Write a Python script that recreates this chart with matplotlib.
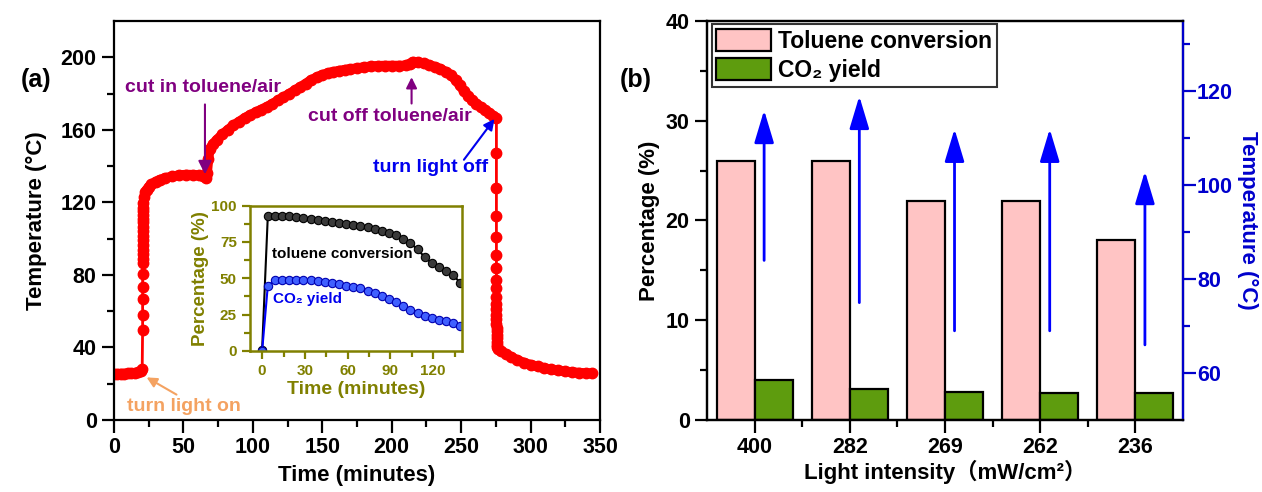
import matplotlib
matplotlib.use('Agg')
import matplotlib.pyplot as plt
import numpy as np
from matplotlib.ticker import MultipleLocator, FixedLocator

plt.rcParams['font.family'] = ['Liberation Sans', 'DejaVu Sans', 'Noto Sans CJK SC']
plt.rcParams['font.weight'] = 'bold'
plt.rcParams['axes.linewidth'] = 1.6

# ---- (a) temperature profile ----
time_min = [0, 2.5, 5, 7.5, 10, 12.5, 15, 17.5, 19.5, 20.3,
            20.6, 20.6, 20.6, 20.6, 20.6, 20.6, 20.6, 20.6, 20.6, 20.6, 20.6,
            20.6, 20.6, 20.6, 20.7, 20.7, 20.8, 20.9, 21.0, 21.2,
            21.5, 22.5, 23.5, 25, 27, 30, 33, 37, 42, 47, 52, 57, 61, 64, 66,
            67, 68, 69, 71, 74, 78, 82, 86, 90, 94, 98, 102, 106, 110, 114,
            118, 122, 126, 130, 134, 138, 142, 146, 150, 154, 158, 162, 166,
            170, 175, 180, 185, 190, 195, 200, 205, 210, 213, 215, 219, 223,
            227, 231, 235, 239, 243, 246, 249, 252, 255, 258, 261, 264, 267,
            270, 273, 275.4,
            275.4, 275.4, 275.4, 275.4, 275.4, 275.4, 275.4, 275.4, 275.4,
            275.4, 275.4, 275.4, 275.4, 275.4, 275.5, 275.5, 275.5, 275.5,
            275.6, 275.6, 275.7,
            276.5, 279, 282, 286, 290, 295, 300, 305, 310, 315, 320, 325,
            330, 335, 340, 344]
temp_c = [25.5, 25.5, 25.6, 25.6, 25.7, 25.8, 25.9, 26.2, 27.0, 28.0,
          49.6, 57.9, 66.5, 73.5, 80.5, 86.4, 89, 91.5, 94, 96.5, 99,
          101.5, 104, 106.5, 109, 111, 113, 115, 117, 119.5,
          123, 125.5, 127, 128.5, 130, 131.5, 132.5, 133.5, 134.3, 135, 135.3,
          135.2, 135, 134.3, 133.5,
          136, 144, 149.5, 152, 154.5, 157.5, 160, 162.5, 164.5, 166.5, 168.2,
          169.7, 171.2, 172.7, 174.3, 176.2, 178, 179.8, 181.7, 183.5, 185.5,
          187.5, 189, 190.3, 191.3, 192, 192.6, 193.1, 193.5, 194, 194.6, 195,
          195.3, 195.4, 195.4, 195.4, 195.5, 196.5, 197.6, 197.2, 196.6, 195.8,
          194.8, 193.6, 192, 190, 187.5, 184.6, 181.5, 178.8, 176.5, 174.5,
          172.6, 171, 169.4, 167.8, 166.4,
          147, 127.7, 112.5, 100.7, 91.2, 83.6, 77.2, 72.6, 68, 64, 61, 58,
          55.5, 53, 51, 49, 47, 45, 43, 41.5, 40.4,
          39.2, 38, 36.5, 34.8, 33.2, 31.7, 30.5, 29.5, 28.6, 27.9, 27.3, 26.8,
          26.4, 26.1, 25.8, 25.7]

# ---- inset ----
inset_t = [0, 4, 9, 14, 19, 24, 29, 34, 39, 44, 49, 54, 59, 64, 69, 74, 79,
           84, 89, 94, 99, 104, 109, 114, 119, 124, 129, 134, 139]
toluene_conv = [1, 93, 93, 93, 93, 92, 91.5, 91, 90, 89.5, 89, 88, 87, 86.5,
                86, 85, 84, 82.5, 81, 79.5, 77, 74, 70, 64.5, 60.5, 57.5, 55,
                52, 47]
co2_yield = [0, 45, 48.5, 49, 49, 49, 48.5, 48.5, 48, 47.5, 47, 46, 45, 44,
             43, 41.5, 40, 38, 36, 33.5, 31, 28.5, 26, 24, 23, 21.5, 20.5, 19, 17]

# ---- (b) ----
intensity = ['400', '282', '269', '262', '236']
tol_pct = [26, 26, 22, 22, 18]
co2_pct = [4.0, 3.1, 2.8, 2.7, 2.7]
temp_start = [84, 75, 69, 69, 66]
temp_end = [116, 119, 112, 112, 103]

W, H = 1262, 492
fig = plt.figure(figsize=(W / 100, H / 100), dpi=100)

def rect(l, t, r, b):
    return [l / W, 1 - b / H, (r - l) / W, (b - t) / H]

# ================= panel (a) =================
ax = fig.add_axes(rect(114, 21, 600, 420))
t_arr = np.array(time_min)
T_arr = np.array(temp_c)
# thick band only where the curve is not a vertical jump
steep = np.zeros(len(t_arr), bool)
dt = np.diff(t_arr)
steep[1:] |= dt < 0.35
steep[:-1] |= dt < 0.35
band = np.where(steep, np.nan, T_arr)
ax.plot(t_arr, band, '-', color='red', lw=7, solid_capstyle='round')
ax.plot(t_arr, T_arr, '-', color='red', lw=2, marker='o', ms=7.5,
        mec='red', mfc='red')
ax.set_xlim(0, 350)
ax.set_ylim(0, 220)
ax.xaxis.set_major_locator(MultipleLocator(50))
ax.xaxis.set_minor_locator(MultipleLocator(25))
ax.yaxis.set_major_locator(FixedLocator([0, 40, 80, 120, 160, 200]))
ax.yaxis.set_minor_locator(FixedLocator([20, 60, 100, 140, 180]))
ax.tick_params(which='both', direction='out', top=False, right=False,
               width=1.6, labelsize=15.5)
ax.tick_params(which='major', length=9)
ax.tick_params(which='minor', length=5)
ax.set_xlabel('Time (minutes)', fontsize=16, fontweight='bold', labelpad=5)
ax.set_ylabel('Temperature (\u00b0C)', fontsize=16, fontweight='bold', labelpad=10)
fig.text(36 / W, 1 - 80 / H, '(a)', fontsize=18, fontweight='bold',
         ha='center', va='center')

ann = dict(fontsize=14, fontweight='bold', ha='center', va='center')
ax.text(50.5, 7.5, 'turn light on', color='#F4A261', **ann)
ax.annotate('', xy=(23.5, 23.5), xytext=(45, 14),
            arrowprops=dict(arrowstyle='-|>', color='#F4A261', lw=1.5,
                            mutation_scale=15, shrinkA=0, shrinkB=0))
ax.text(63.8, 183.4, 'cut in toluene/air', color='#800080', **ann)
ax.annotate('', xy=(65.5, 135.5), xytext=(65.5, 174),
            arrowprops=dict(arrowstyle='-|>', color='#800080', lw=1.5,
                            mutation_scale=20, shrinkA=0, shrinkB=0))
ax.text(198.7, 167.2, 'cut off toluene/air', color='#800080', **ann)
ax.annotate('', xy=(214.3, 189), xytext=(214.3, 174.5),
            arrowprops=dict(arrowstyle='-|>', color='#800080', lw=1.5,
                            mutation_scale=16, shrinkA=0, shrinkB=0))
ax.text(228, 139, 'turn light off', color='#0000EE', **ann)
ax.annotate('', xy=(274, 166), xytext=(252, 143.5),
            arrowprops=dict(arrowstyle='-|>', color='#0000EE', lw=1.5,
                            mutation_scale=16, shrinkA=0, shrinkB=0))

# ---- inset ----
olive = '#808000'
ins = fig.add_axes(rect(250, 205.5, 461.7, 351))
ins.plot(inset_t, toluene_conv, '-', color='black', lw=1.5, marker='o', ms=6,
         mfc='#3a3a3a', mec='black', mew=0.8)
ins.plot(inset_t, co2_yield, '-', color='blue', lw=1.5, marker='o', ms=6,
         mfc='#4060ff', mec='#0000b0', mew=0.8)
ins.set_xlim(-8.5, 140)
ins.set_ylim(0, 100)
ins.xaxis.set_major_locator(FixedLocator([0, 30, 60, 90, 120]))
ins.xaxis.set_minor_locator(FixedLocator([15, 45, 75, 105, 135]))
ins.yaxis.set_major_locator(MultipleLocator(25))
ins.yaxis.set_minor_locator(MultipleLocator(12.5))
for s in ins.spines.values():
    s.set_color(olive)
    s.set_linewidth(1.8)
ins.tick_params(which='both', direction='out', colors=olive, width=1.6,
                labelsize=11, top=False, right=False)
ins.tick_params(which='major', length=6)
ins.tick_params(which='minor', length=4)
for lab in ins.get_xticklabels() + ins.get_yticklabels():
    lab.set_fontweight('bold')
ins.set_xlabel('Time (minutes)', color=olive, fontsize=14, fontweight='bold',
               labelpad=2)
ins.set_ylabel('Percentage (%)', color=olive, fontsize=13.5, fontweight='bold',
               labelpad=2)
ins.text(56, 67, 'toluene conversion', fontsize=11, fontweight='bold',
         color='black', ha='center', va='center')
ins.text(32, 36, 'CO\u2082 yield', fontsize=11, fontweight='bold',
         color='#0000EE', ha='center', va='center')

# ================= panel (b) =================
bx = fig.add_axes(rect(707, 21, 1183, 420))
pos = np.arange(len(intensity))
bx.bar(pos - 0.4, tol_pct, width=0.4, align='edge', color='#FFC4C4',
       edgecolor='black', lw=1.6, label='Toluene conversion')
bx.bar(pos, co2_pct, width=0.4, align='edge', color='#5E9C0E',
       edgecolor='black', lw=1.6, label='CO\u2082 yield')
bx.set_xlim(-0.5, 4.5)
bx.set_ylim(0, 40)
bx.set_xticks(pos)
bx.set_xticklabels(intensity)
bx.xaxis.set_minor_locator(FixedLocator(pos[:-1] + 0.5))
bx.yaxis.set_major_locator(MultipleLocator(10))
bx.yaxis.set_minor_locator(MultipleLocator(5))
bx.tick_params(which='both', direction='out', top=False, right=False,
               width=1.6, labelsize=15.5)
bx.tick_params(which='major', length=9)
bx.tick_params(which='minor', length=5)
bx.set_ylabel('Percentage (%)', fontsize=16, fontweight='bold', labelpad=4)
bx.set_xlabel('Light intensity\uff08mW/cm\u00b2\uff09', fontsize=16,
              fontweight='bold', labelpad=1)
fig.text(636 / W, 1 - 80 / H, '(b)', fontsize=18, fontweight='bold',
         ha='center', va='center')
leg = bx.legend(loc='upper left', bbox_to_anchor=(0.01, 0.992), fontsize=16.5,
                frameon=True, fancybox=False, edgecolor='black',
                handlelength=2.4, handleheight=1.1, borderpad=0.2,
                labelspacing=0.25, handletextpad=0.3, borderaxespad=0)
leg.get_frame().set_linewidth(1.5)

blue = '#0000CC'
tx = bx.twinx()
tx.set_ylim(50, 135)
tx.yaxis.set_major_locator(FixedLocator([60, 80, 100, 120]))
tx.yaxis.set_minor_locator(FixedLocator([70, 90, 110, 130]))
tx.spines['right'].set_color(blue)
tx.tick_params(axis='y', which='both', direction='out', colors=blue,
               width=1.6, labelsize=15.5, pad=1)
tx.tick_params(which='major', length=9)
tx.tick_params(which='minor', length=5)
tx.set_ylabel('Temperature (\u00b0C)', color=blue, fontsize=16,
              fontweight='bold', rotation=270, labelpad=18)
for i in range(len(pos)):
    tx.annotate('', xy=(pos[i] + 0.1, temp_end[i]),
                xytext=(pos[i] + 0.1, temp_start[i]),
                arrowprops=dict(arrowstyle='-|>,head_length=1.0,head_width=0.3',
                                color='blue', lw=2, mutation_scale=20,
                                shrinkA=0, shrinkB=0))

fig.savefig('out.png', dpi=100)
